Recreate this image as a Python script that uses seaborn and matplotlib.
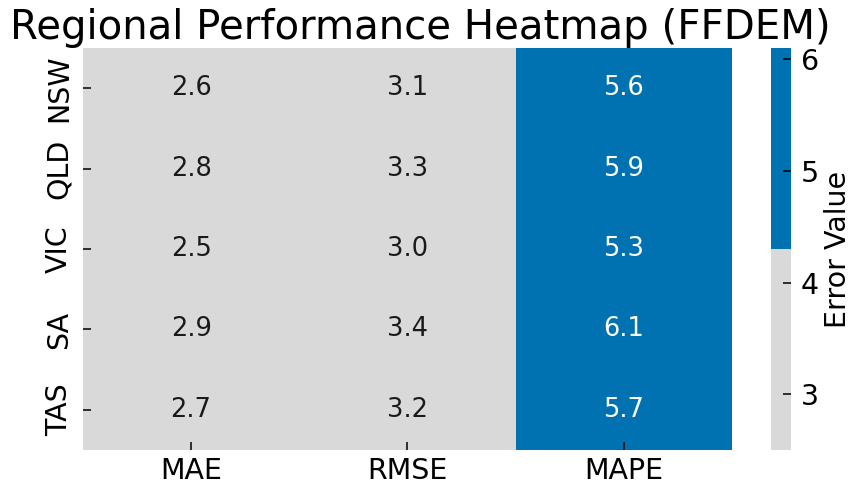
import pandas as pd
import seaborn as sns
import matplotlib.pyplot as plt
from matplotlib.colors import ListedColormap

regions = ['NSW', 'QLD', 'VIC', 'SA', 'TAS']
metrics = ['MAE', 'RMSE', 'MAPE']
mae = [2.6, 2.8, 2.5, 2.9, 2.7]
rmse = [3.1, 3.3, 3.0, 3.4, 3.2]
mape = [5.6, 5.9, 5.3, 6.1, 5.7]
cbar_ticks = [3, 4, 5, 6]

df = pd.DataFrame({'MAE': mae, 'RMSE': rmse, 'MAPE': mape}, index=regions)[metrics]

cmap = ListedColormap(['#d9d9d9', '#0072b2'])

fig = plt.figure(figsize=(8.55, 4.86), dpi=100)
ax = fig.add_axes([0.097, 0.074, 0.759, 0.827])
cax = fig.add_axes([0.902, 0.074, 0.023, 0.827])

sns.heatmap(df, ax=ax, cbar_ax=cax, cmap=cmap, annot=True, fmt='.1f',
            annot_kws={'size': 18.5, 'color': '#1a1a1a'}, cbar_kws={'label': 'Error Value'})
# white text on the blue column
for t, v in zip(ax.texts, df.values.flatten()):
    if v > 4.3:
        t.set_color('white')

ax.set_title('Regional Performance Heatmap (FFDEM)', fontsize=29, pad=6, x=0.52)
ax.tick_params(axis='both', labelsize=20.5, direction='in', length=6, width=1.1, pad=7)
ax.tick_params(axis='x', pad=5)
ax.set_yticklabels(regions, rotation=90, va='center')
ax.set_xticklabels(metrics, rotation=0)
cax.set_yticks(cbar_ticks)
cax.tick_params(labelsize=20.5, direction='in', length=6, width=1.1, pad=7)
cax.yaxis.label.set_size(20.5)

fig.savefig('out.png', dpi=100)
